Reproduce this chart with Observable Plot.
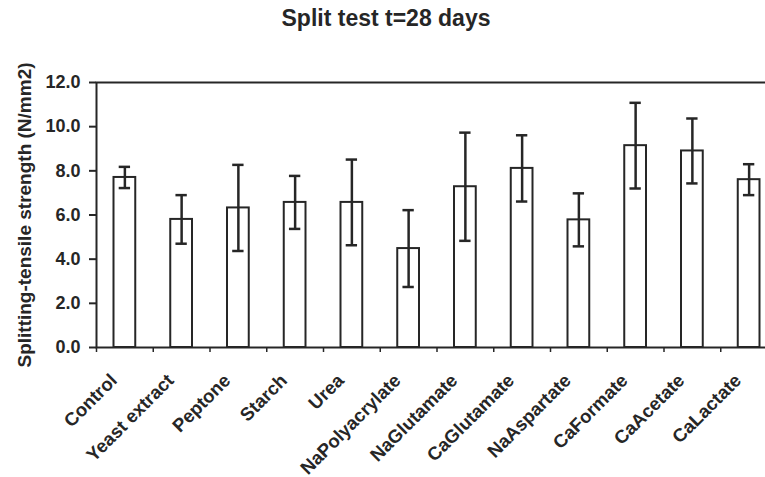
<!DOCTYPE html>
<html>
<head>
<meta charset="utf-8">
<script src="https://cdn.jsdelivr.net/npm/d3@7"></script>
<script src="https://cdn.jsdelivr.net/npm/@observablehq/plot@0.6"></script>
<style>
  html, body { margin: 0; padding: 0; background: #fff; overflow: hidden; }
  #wrap { width: 765px; height: 477px; overflow: hidden; position: relative; }
  #title { width: 772px; height: 40px; text-align: center; font: bold 23px "Liberation Sans", Arial, sans-serif;
           line-height: 23px; padding-top: 7px; box-sizing: border-box; color: #262626; }
  #chart svg { max-width: none !important; display: block; }
</style>
</head>
<body>
<div id="wrap">
  <div id="title">Split test t=28 days</div>
  <div id="chart"></div>
</div>
<script>
const categories = ["Control", "Yeast extract", "Peptone", "Starch", "Urea", "NaPolyacrylate",
  "NaGlutamate", "CaGlutamate", "NaAspartate", "CaFormate", "CaAcetate", "CaLactate"];
const means = [7.70, 5.80, 6.32, 6.57, 6.57, 4.48, 7.28, 8.11, 5.78, 9.14, 8.90, 7.60];
const errors = [0.48, 1.10, 1.95, 1.20, 1.94, 1.74, 2.45, 1.50, 1.20, 1.94, 1.47, 0.70];
const yTicks = [0, 2, 4, 6, 8, 10, 12];
const yLabel = "Splitting-tensile strength (N/mm2)";

const data = categories.map((c, i) => ({i, c, v: means[i], e: errors[i]}));
const ink = "#262626";
const font = "Liberation Sans, Arial, sans-serif";

const chart = Plot.plot({
  width: 778,
  height: 437,
  marginLeft: 96,
  marginRight: 1,
  marginTop: 42,
  marginBottom: 130,
  style: {fontFamily: font, color: ink, background: "#fff", overflow: "hidden", maxWidth: "none"},
  x: {domain: [0, categories.length]},
  y: {domain: [0, 12]},
  marks: [
    Plot.rectY(data, {x1: d => d.i, x2: d => d.i + 1, y1: 0, y2: "v", insetLeft: 17.5, insetRight: 17.5,
      fill: "#fff", stroke: ink, strokeWidth: 2}),
    Plot.ruleX(data, {x: d => d.i + 0.5, y1: d => d.v - d.e, y2: d => d.v + d.e, stroke: ink, strokeWidth: 2.5}),
    Plot.ruleY(data, {y: d => d.v + d.e, x1: d => d.i + 0.4, x2: d => d.i + 0.6, stroke: ink, strokeWidth: 2.5}),
    Plot.ruleY(data, {y: d => d.v - d.e, x1: d => d.i + 0.4, x2: d => d.i + 0.6, stroke: ink, strokeWidth: 2.5}),
    Plot.frame({stroke: ink, strokeWidth: 2}),
    Plot.axisY({ticks: yTicks, tickFormat: d => d.toFixed(1), tickSize: 7, tickPadding: 9, label: null,
      fontSize: 18, fontWeight: "bold", stroke: ink, strokeWidth: 2, fill: ink}),
    Plot.axisX({ticks: d3.range(categories.length + 1), tickFormat: () => "", tickSize: 5, label: null,
      stroke: ink, strokeWidth: 1.5}),
    Plot.text(data, {x: d => d.i + 0.5, text: "c", frameAnchor: "bottom", rotate: -45, textAnchor: "end",
      lineAnchor: "middle", dx: -11, dy: 30, fontSize: 18.5, fontWeight: "bold", fill: ink}),
    Plot.text([yLabel], {frameAnchor: "left", dx: -72, rotate: -90, textAnchor: "middle", lineAnchor: "middle",
      fontSize: 19, fontWeight: "bold", fill: ink})
  ]
});
document.getElementById("chart").appendChild(chart);
</script>
</body>
</html>
